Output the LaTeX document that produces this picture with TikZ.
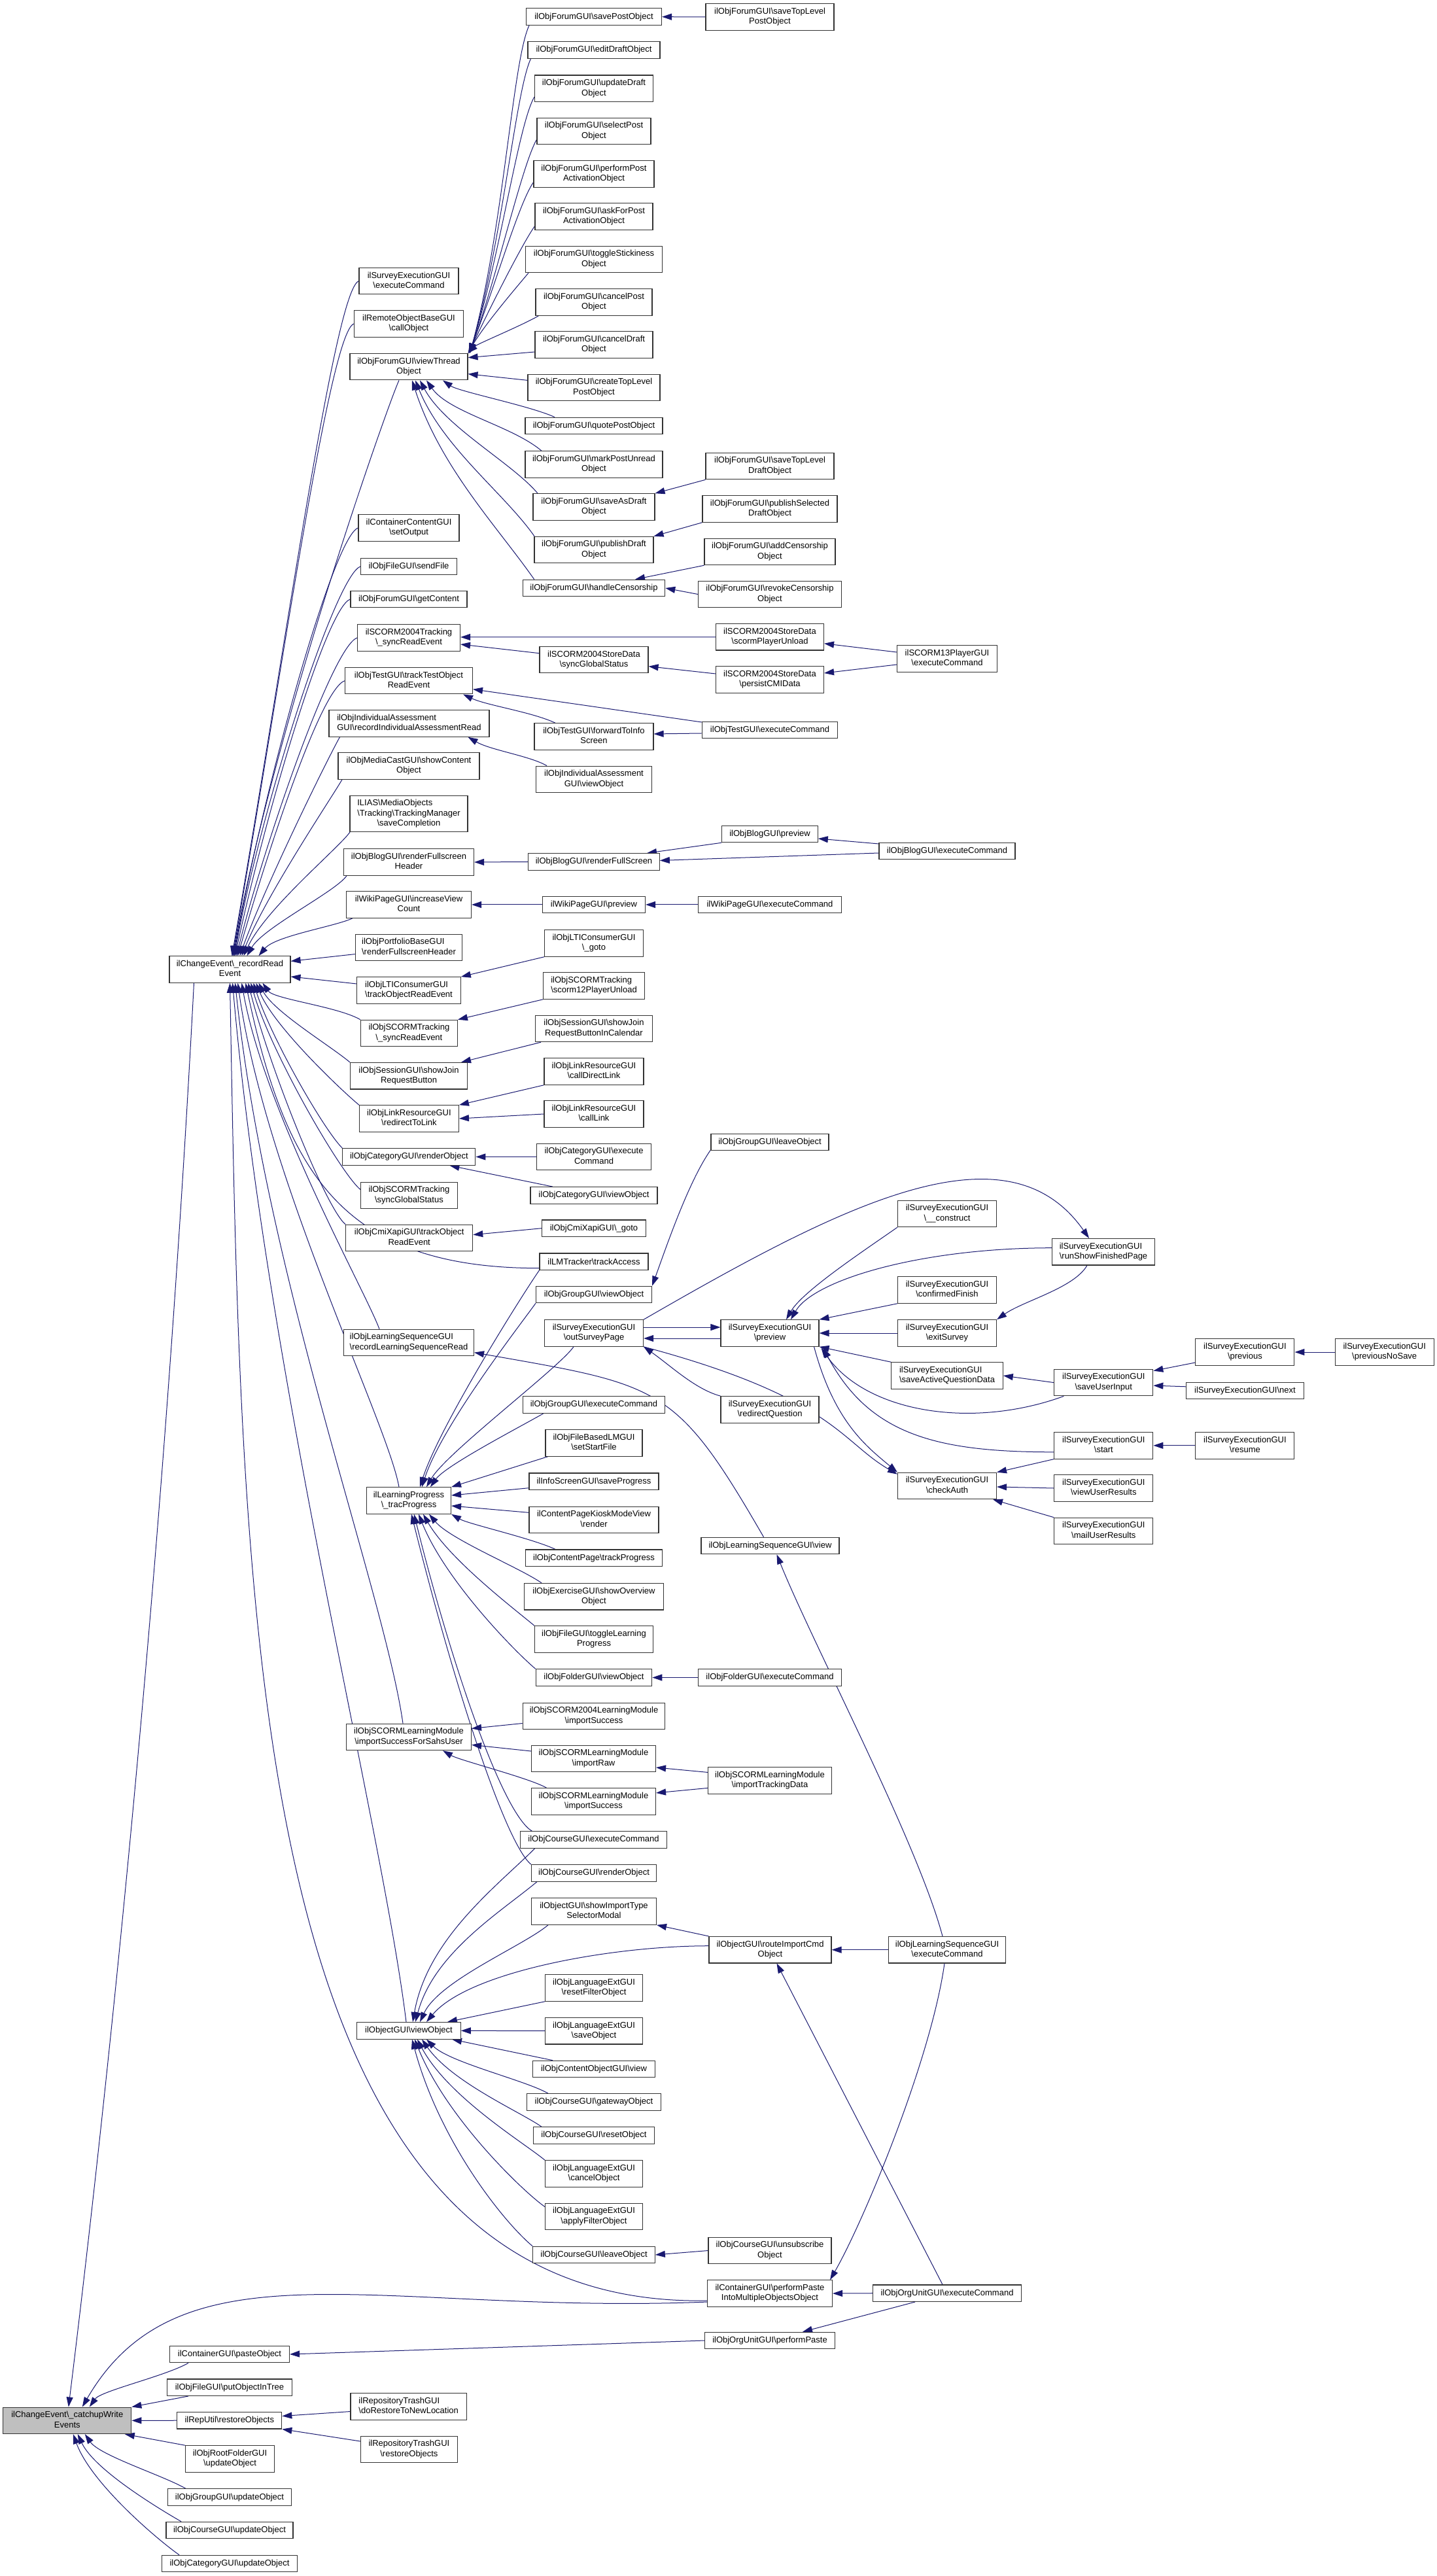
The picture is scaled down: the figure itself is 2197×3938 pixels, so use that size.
\documentclass[tikz,border=0pt]{standalone}
\usepackage{fontspec}
\setmainfont{Liberation Sans}
\usetikzlibrary{arrows.meta}
\pgfdeclarelayer{bg}
\pgfsetlayers{bg,main}
\definecolor{eb}{RGB}{25,25,112}
\newcommand{\bsl}{\textbackslash}
\newcommand{\twol}[2]{\begin{tabular}{@{}l@{}}#1\\\multicolumn{1}{@{}c@{}}{#2}\end{tabular}}
\newcommand{\threel}[3]{\begin{tabular}{@{}l@{}}#1\\#2\\\multicolumn{1}{@{}c@{}}{#3}\end{tabular}}
\begin{document}
\begin{tikzpicture}[x=0.1pt,y=-0.1pt,
 box/.style={draw=black!80, line width=0.11pt, fill=white, inner sep=0pt, minimum height=2.55pt, font=\fontsize{1.3}{1.55}\selectfont},
 two/.style={minimum height=4.05pt},
 three/.style={minimum height=5.5pt},
 e/.style={draw=eb, line width=0.1pt, -{Triangle[length=1.5pt,width=1pt]}}]
\useasboundingbox (0,0) rectangle (2197,3938);

% ---------------- column 0
\node[box,two,minimum width=19.6pt,fill=black!25] (C) at (102.8,3700.3) {\twol{ilChangeEvent\bsl\_catchupWrite}{Events}};
\node[box,two,minimum width=18.5pt] (R) at (351.5,1482) {\twol{ilChangeEvent\bsl\_recordRead}{Event}};

% ---------------- column 0.5
\node[box,minimum width=18.3pt] (pasteObj) at (351,3599) {ilContainerGUI\bsl{}pasteObject};
\node[box,minimum width=19.15pt] (putTree) at (351,3649.7) {ilObjFileGUI\bsl{}putObjectInTree};
\node[box,minimum width=16pt] (restoreRep) at (350.8,3700.2) {ilRepUtil\bsl{}restoreObjects};
\node[box,two,minimum width=13.6pt] (rootUpd) at (351.5,3759) {\twol{ilObjRootFolderGUI}{\bsl{}updateObject}};
\node[box,minimum width=18.9pt] (groupUpd) at (351,3817.6) {ilObjGroupGUI\bsl{}updateObject};
\node[box,minimum width=19.4pt] (courseUpd) at (351,3868) {ilObjCourseGUI\bsl{}updateObject};
\node[box,minimum width=20.7pt] (catUpd) at (351,3919) {ilObjCategoryGUI\bsl{}updateObject};

% ---------------- column 1
\node[box,two,minimum width=15.2pt] (sExec) at (625,429.7) {\twol{ilSurveyExecutionGUI}{\bsl{}executeCommand}};
\node[box,two,minimum width=16.7pt] (remote) at (625,495) {\twol{ilRemoteObjectBaseGUI}{\bsl{}callObject}};
\node[box,two,minimum width=18pt] (viewThread) at (625,560.7) {\twol{ilObjForumGUI\bsl{}viewThread}{Object}};
\node[box,two,minimum width=15.4pt] (setOutput) at (625,807) {\twol{ilContainerContentGUI}{\bsl{}setOutput}};
\node[box,minimum width=14.7pt] (sendFile) at (625,866) {ilObjFileGUI\bsl{}sendFile};
\node[box,minimum width=17.8pt] (getContent) at (625,916) {ilObjForumGUI\bsl{}getContent};
\node[box,two,minimum width=15.7pt] (scormTwoSync) at (625,975) {\twol{ilSCORM2004Tracking}{\bsl\_syncReadEvent}};
\node[box,two,minimum width=19.5pt] (trackTest) at (625,1040.7) {\twol{ilObjTestGUI\bsl{}trackTestObject}{ReadEvent}};
\node[box,two,minimum width=24.5pt] (indivRead) at (625.5,1106) {\twol{ilObjIndividualAssessment}{GUI\bsl{}recordIndividualAssessmentRead}};
\node[box,two,minimum width=21.6pt] (mediaCast) at (625,1171) {\twol{ilObjMediaCastGUI\bsl{}showContent}{Object}};
\node[box,three,minimum width=18pt] (saveCompl) at (625,1244) {\threel{ILIAS\bsl{}MediaObjects}{\bsl{}Tracking\bsl{}TrackingManager}{\bsl{}saveCompletion}};
\node[box,two,minimum width=19.9pt] (blogHeader) at (625,1318) {\twol{ilObjBlogGUI\bsl{}renderFullscreen}{Header}};
\node[box,two,minimum width=19.1pt] (wikiInc) at (625,1383) {\twol{ilWikiPageGUI\bsl{}increaseView}{Count}};
\node[box,two,minimum width=16.35pt] (portfolio) at (625,1448.6) {\twol{ilObjPortfolioBaseGUI}{\bsl{}renderFullscreenHeader}};
\node[box,two,minimum width=15.85pt] (ltiTrack) at (625,1514) {\twol{ilObjLTIConsumerGUI}{\bsl{}trackObjectReadEvent}};
\node[box,two,minimum width=14.8pt] (scormSync) at (625.4,1579.5) {\twol{ilObjSCORMTracking}{\bsl\_syncReadEvent}};
\node[box,two,minimum width=17.9pt] (joinBtn) at (625,1644.7) {\twol{ilObjSessionGUI\bsl{}showJoin}{RequestButton}};
\node[box,two,minimum width=15.2pt] (redirect) at (625.4,1710) {\twol{ilObjLinkResourceGUI}{\bsl{}redirectToLink}};
\node[box,minimum width=20.3pt] (catRender) at (625.4,1768.5) {ilObjCategoryGUI\bsl{}renderObject};
\node[box,two,minimum width=14.8pt] (scormGlobal) at (625.4,1827.4) {\twol{ilObjSCORMTracking}{\bsl{}syncGlobalStatus}};
\node[box,two,minimum width=19.4pt] (cmiTrack) at (625.7,1892.6) {\twol{ilObjCmiXapiGUI\bsl{}trackObject}{ReadEvent}};
\node[box,two,minimum width=19.9pt] (lsRead) at (625,2052.6) {\twol{ilObjLearningSequenceGUI}{\bsl{}recordLearningSequenceRead}};
\node[box,two,minimum width=12.9pt] (tracProg) at (625,2294) {\twol{ilLearningProgress}{\bsl\_tracProgress}};
\node[box,two,minimum width=19.1pt] (sahs) at (625,2655.4) {\twol{ilObjSCORMLearningModule}{\bsl{}importSuccessForSahsUser}};
\node[box,minimum width=15.85pt] (objView) at (625,3104.3) {ilObjectGUI\bsl{}viewObject};
\node[box,two,minimum width=17.75pt] (trashNew) at (624.7,3679) {\twol{ilRepositoryTrashGUI}{\bsl{}doRestoreToNewLocation}};
\node[box,two,minimum width=14.8pt] (trashRestore) at (625.4,3744.4) {\twol{ilRepositoryTrashGUI}{\bsl{}restoreObjects}};

% ---------------- column 2
\node[box,minimum width=20.7pt] (savePost) at (908,25.7) {ilObjForumGUI\bsl{}savePostObject};
\node[box,minimum width=20.2pt] (editDraft) at (908,76.6) {ilObjForumGUI\bsl{}editDraftObject};
\node[box,two,minimum width=18.1pt] (updateDraft) at (908,135.3) {\twol{ilObjForumGUI\bsl{}updateDraft}{Object}};
\node[box,two,minimum width=17.4pt] (selectPost) at (908,200.6) {\twol{ilObjForumGUI\bsl{}selectPost}{Object}};
\node[box,two,minimum width=18.4pt] (performPost) at (908,266) {\twol{ilObjForumGUI\bsl{}performPost}{ActivationObject}};
\node[box,two,minimum width=18pt] (askPost) at (908,331) {\twol{ilObjForumGUI\bsl{}askForPost}{ActivationObject}};
\node[box,two,minimum width=20.9pt] (toggleSticky) at (908,396.5) {\twol{ilObjForumGUI\bsl{}toggleStickiness}{Object}};
\node[box,two,minimum width=17.8pt] (cancelPost) at (908,462) {\twol{ilObjForumGUI\bsl{}cancelPost}{Object}};
\node[box,two,minimum width=18pt] (cancelDraft) at (908,527) {\twol{ilObjForumGUI\bsl{}cancelDraft}{Object}};
\node[box,two,minimum width=20.2pt] (createTop) at (908,592.4) {\twol{ilObjForumGUI\bsl{}createTopLevel}{PostObject}};
\node[box,minimum width=21pt] (quotePost) at (908,651) {ilObjForumGUI\bsl{}quotePostObject};
\node[box,two,minimum width=21pt] (markUnread) at (908,710) {\twol{ilObjForumGUI\bsl{}markPostUnread}{Object}};
\node[box,two,minimum width=18.6pt] (saveAsDraft) at (908,775) {\twol{ilObjForumGUI\bsl{}saveAsDraft}{Object}};
\node[box,two,minimum width=18.2pt] (publishDraft) at (908,840.6) {\twol{ilObjForumGUI\bsl{}publishDraft}{Object}};
\node[box,minimum width=21.75pt] (censorship) at (908,899) {ilObjForumGUI\bsl{}handleCensorship};
\node[box,two,minimum width=16.6pt] (storeSync) at (908,1008.7) {\twol{ilSCORM2004StoreData}{\bsl{}syncGlobalStatus}};
\node[box,two,minimum width=18.2pt] (forwardInfo) at (908,1126) {\twol{ilObjTestGUI\bsl{}forwardToInfo}{Screen}};
\node[box,two,minimum width=17.7pt] (indivView) at (908,1191.4) {\twol{ilObjIndividualAssessment}{GUI\bsl{}viewObject}};
\node[box,minimum width=20.06pt] (blogFull) at (908,1317.5) {ilObjBlogGUI\bsl{}renderFullScreen};
\node[box,minimum width=15.7pt] (wikiPrev) at (908,1383) {ilWikiPageGUI\bsl{}preview};
\node[box,two,minimum width=15.1pt] (ltiGoto) at (908,1442) {\twol{ilObjLTIConsumerGUI}{\bsl\_goto}};
\node[box,two,minimum width=15.44pt] (scormTwelve) at (908,1507) {\twol{ilObjSCORMTracking}{\bsl{}scorm12PlayerUnload}};
\node[box,two,minimum width=17.9pt] (joinCal) at (908,1572.5) {\twol{ilObjSessionGUI\bsl{}showJoin}{RequestButtonInCalendar}};
\node[box,two,minimum width=15.2pt] (callDirect) at (908,1638) {\twol{ilObjLinkResourceGUI}{\bsl{}callDirectLink}};
\node[box,two,minimum width=15.2pt] (callLink) at (908,1703) {\twol{ilObjLinkResourceGUI}{\bsl{}callLink}};
\node[box,two,minimum width=17.47pt] (catExec) at (908,1768.5) {\twol{ilObjCategoryGUI\bsl{}execute}{Command}};
\node[box,minimum width=19.4pt] (catView) at (908,1827.4) {ilObjCategoryGUI\bsl{}viewObject};
\node[box,minimum width=15.85pt] (cmiGoto) at (908,1877.7) {ilObjCmiXapiGUI\bsl\_goto};
\node[box,minimum width=16.6pt] (lmTrack) at (908,1928.7) {ilLMTracker\bsl{}trackAccess};
\node[box,minimum width=17.7pt] (groupView) at (908,1979) {ilObjGroupGUI\bsl{}viewObject};
\node[box,two,minimum width=15.1pt] (outSurvey) at (908,2038) {\twol{ilSurveyExecutionGUI}{\bsl{}outSurveyPage}};
\node[box,minimum width=21.75pt] (groupExec) at (908,2147.4) {ilObjGroupGUI\bsl{}executeCommand};
\node[box,two,minimum width=14.8pt] (setStart) at (908,2205.8) {\twol{ilObjFileBasedLMGUI}{\bsl{}setStartFile}};
\node[box,minimum width=19.8pt] (infoSave) at (908,2264.7) {ilInfoScreenGUI\bsl{}saveProgress};
\node[box,two,minimum width=19.8pt] (kiosk) at (908,2323.3) {\twol{ilContentPageKioskModeView}{\bsl{}render}};
\node[box,minimum width=20.9pt] (cpTrack) at (908,2381.7) {ilObjContentPage\bsl{}trackProgress};
\node[box,two,minimum width=21.3pt] (exercise) at (908,2440.7) {\twol{ilObjExerciseGUI\bsl{}showOverview}{Object}};
\node[box,two,minimum width=18.1pt] (fileToggle) at (908,2506) {\twol{ilObjFileGUI\bsl{}toggleLearning}{Progress}};
\node[box,minimum width=17.75pt] (folderView) at (908,2564.5) {ilObjFolderGUI\bsl{}viewObject};
\node[box,two,minimum width=21.75pt] (sTwoImport) at (908,2623.5) {\twol{ilObjSCORM2004LearningModule}{\bsl{}importSuccess}};
\node[box,two,minimum width=19pt] (importRaw) at (907.5,2688.6) {\twol{ilObjSCORMLearningModule}{\bsl{}importRaw}};
\node[box,two,minimum width=19pt] (importSucc) at (907.5,2753.9) {\twol{ilObjSCORMLearningModule}{\bsl{}importSuccess}};
\node[box,minimum width=22.4pt] (courseExec) at (907.5,2812.6) {ilObjCourseGUI\bsl{}executeCommand};
\node[box,minimum width=19.15pt] (courseRender) at (908,2863.3) {ilObjCourseGUI\bsl{}renderObject};
\node[box,two,minimum width=19.1pt] (importModal) at (908,2922) {\twol{ilObjectGUI\bsl{}showImportType}{SelectorModal}};
\node[box,two,minimum width=14.9pt] (resetFilter) at (908,3039) {\twol{ilObjLanguageExtGUI}{\bsl{}resetFilterObject}};
\node[box,two,minimum width=14.9pt] (langSave) at (908,3104.7) {\twol{ilObjLanguageExtGUI}{\bsl{}saveObject}};
\node[box,minimum width=18.66pt] (coView) at (908,3163) {ilObjContentObjectGUI\bsl{}view};
\node[box,minimum width=20.55pt] (gateway) at (908,3213.5) {ilObjCourseGUI\bsl{}gatewayObject};
\node[box,minimum width=18.5pt] (courseReset) at (908,3264.5) {ilObjCourseGUI\bsl{}resetObject};
\node[box,two,minimum width=14.9pt] (langCancel) at (908,3323) {\twol{ilObjLanguageExtGUI}{\bsl{}cancelObject}};
\node[box,two,minimum width=14.9pt] (applyFilter) at (908,3388.5) {\twol{ilObjLanguageExtGUI}{\bsl{}applyFilterObject}};
\node[box,minimum width=18.66pt] (courseLeave) at (908,3447) {ilObjCourseGUI\bsl{}leaveObject};

% ---------------- column 3
\node[box,two,minimum width=19.6pt] (saveTopPost) at (1177,26) {\twol{ilObjForumGUI\bsl{}saveTopLevel}{PostObject}};
\node[box,two,minimum width=19.6pt] (saveTopDraft) at (1177,712.6) {\twol{ilObjForumGUI\bsl{}saveTopLevel}{DraftObject}};
\node[box,two,minimum width=20.6pt] (pubSelected) at (1177,778) {\twol{ilObjForumGUI\bsl{}publishSelected}{DraftObject}};
\node[box,two,minimum width=20pt] (addCensor) at (1177,843.5) {\twol{ilObjForumGUI\bsl{}addCensorship}{Object}};
\node[box,two,minimum width=21.9pt] (revokeCensor) at (1177,908.5) {\twol{ilObjForumGUI\bsl{}revokeCensorship}{Object}};
\node[box,two,minimum width=16.5pt] (playerUnload) at (1177,973.8) {\twol{ilSCORM2004StoreData}{\bsl{}scormPlayerUnload}};
\node[box,two,minimum width=16.5pt] (persistCMI) at (1177,1039) {\twol{ilSCORM2004StoreData}{\bsl{}persistCMIData}};
\node[box,minimum width=20.75pt] (testExec) at (1177,1116) {ilObjTestGUI\bsl{}executeCommand};
\node[box,minimum width=14.66pt] (blogPrev) at (1177,1275) {ilObjBlogGUI\bsl{}preview};
\node[box,minimum width=21.9pt] (wikiExec) at (1177,1383) {ilWikiPageGUI\bsl{}executeCommand};
\node[box,minimum width=18pt] (groupLeave) at (1177,1746) {ilObjGroupGUI\bsl{}leaveObject};
\node[box,two,minimum width=15pt] (preview) at (1177,2038) {\twol{ilSurveyExecutionGUI}{\bsl{}preview}};
\node[box,two,minimum width=15pt] (redirectQ) at (1177,2154.9) {\twol{ilSurveyExecutionGUI}{\bsl{}redirectQuestion}};
\node[box,minimum width=21.1pt] (lsView) at (1177.5,2363) {ilObjLearningSequenceGUI\bsl{}view};
\node[box,minimum width=21.9pt] (folderExec) at (1177,2564.5) {ilObjFolderGUI\bsl{}executeCommand};
\node[box,two,minimum width=18.9pt] (trackingData) at (1177,2722) {\twol{ilObjSCORMLearningModule}{\bsl{}importTrackingData}};
\node[box,two,minimum width=18.7pt] (routeImport) at (1177.5,2980.7) {\twol{ilObjectGUI\bsl{}routeImportCmd}{Object}};
\node[box,two,minimum width=18.8pt] (unsubscribe) at (1177,3440.5) {\twol{ilObjCourseGUI\bsl{}unsubscribe}{Object}};
\node[box,two,minimum width=19.1pt] (pasteMulti) at (1177,3506) {\twol{ilContainerGUI\bsl{}performPaste}{IntoMultipleObjectsObject}};
\node[box,minimum width=19.9pt] (orgPaste) at (1177,3578) {ilObjOrgUnitGUI\bsl{}performPaste};

% ---------------- column 4
\node[box,two,minimum width=15.3pt] (scormPlayer) at (1448,1007) {\twol{ilSCORM13PlayerGUI}{\bsl{}executeCommand}};
\node[box,minimum width=20.8pt] (blogExec) at (1448,1301) {ilObjBlogGUI\bsl{}executeCommand};
\node[box,two,minimum width=15.1pt] (construct) at (1448,1855.4) {\twol{ilSurveyExecutionGUI}{\bsl\_\_construct}};
\node[box,two,minimum width=15.1pt] (confirmed) at (1448,1972) {\twol{ilSurveyExecutionGUI}{\bsl{}confirmedFinish}};
\node[box,two,minimum width=15.1pt] (exitSurvey) at (1448,2038) {\twol{ilSurveyExecutionGUI}{\bsl{}exitSurvey}};
\node[box,two,minimum width=17.05pt] (saveActive) at (1448,2103) {\twol{ilSurveyExecutionGUI}{\bsl{}saveActiveQuestionData}};
\node[box,two,minimum width=15.1pt] (checkAuth) at (1448,2271.5) {\twol{ilSurveyExecutionGUI}{\bsl{}checkAuth}};
\node[box,two,minimum width=17.9pt] (lsExec) at (1448,2980.7) {\twol{ilObjLearningSequenceGUI}{\bsl{}executeCommand}};
\node[box,minimum width=22.7pt] (orgExec) at (1448,3505.7) {ilObjOrgUnitGUI\bsl{}executeCommand};

% ---------------- column 5
\node[box,two,minimum width=15.65pt] (runFinished) at (1687,1913.7) {\twol{ilSurveyExecutionGUI}{\bsl{}runShowFinishedPage}};
\node[box,two,minimum width=15.1pt] (saveUser) at (1687.3,2113.6) {\twol{ilSurveyExecutionGUI}{\bsl{}saveUserInput}};
\node[box,two,minimum width=15.1pt] (sStart) at (1687.3,2209.8) {\twol{ilSurveyExecutionGUI}{\bsl{}start}};
\node[box,two,minimum width=15.1pt] (viewResults) at (1687.3,2275) {\twol{ilSurveyExecutionGUI}{\bsl{}viewUserResults}};
\node[box,two,minimum width=15.1pt] (mailResults) at (1687.3,2340.5) {\twol{ilSurveyExecutionGUI}{\bsl{}mailUserResults}};

% ---------------- column 6/7
\node[box,two,minimum width=15.1pt] (previous) at (1903.4,2067) {\twol{ilSurveyExecutionGUI}{\bsl{}previous}};
\node[box,minimum width=18pt] (sNext) at (1903.4,2125.8) {ilSurveyExecutionGUI\bsl{}next};
\node[box,two,minimum width=15.1pt] (resume) at (1903.4,2209.8) {\twol{ilSurveyExecutionGUI}{\bsl{}resume}};
\node[box,two,minimum width=15.1pt] (previousNoSave) at (2116.7,2067) {\twol{ilSurveyExecutionGUI}{\bsl{}previousNoSave}};

\begin{pgfonlayer}{bg}
% ---- into recordReadEvent from above
\draw[e] (sExec.west) .. controls +(200:4pt) and +(80:45pt) .. ([xshift=0.3pt]R.north);
\draw[e] (remote.west) .. controls +(200:4pt) and +(80:42pt) .. ([xshift=0.4pt]R.north);
\draw[e] ([xshift=-1.5pt]viewThread.south) .. controls +(-115:4pt) and +(80:35pt) .. ([xshift=0.5pt]R.north);
\draw[e] (setOutput.west) .. controls +(200:4pt) and +(80:26pt) .. ([xshift=0.6pt]R.north);
\draw[e] (sendFile.west) .. controls +(200:4pt) and +(80:23pt) .. ([xshift=0.7pt]R.north);
\draw[e] (getContent.west) .. controls +(200:4pt) and +(78:21pt) .. ([xshift=0.8pt]R.north);
\draw[e] (scormTwoSync.west) .. controls +(200:4pt) and +(76:18pt) .. ([xshift=1pt]R.north);
\draw[e] (trackTest.west) .. controls +(200:4pt) and +(74:16pt) .. ([xshift=1.2pt]R.north);
\draw[e] ([xshift=-10.6pt]indivRead.south) .. controls +(240:3pt) and +(70:12pt) .. ([xshift=1.5pt]R.north);
\draw[e] ([xshift=-10.2pt]mediaCast.south) .. controls +(240:3pt) and +(68:10pt) .. ([xshift=1.8pt]R.north);
\draw[e] ([xshift=-9pt]saveCompl.south) .. controls +(235:3pt) and +(65:8pt) .. ([xshift=2.1pt]R.north);
\draw[e] ([xshift=-9.5pt]blogHeader.south) .. controls +(235:3pt) and +(60:5pt) .. ([xshift=2.6pt]R.north);
\draw[e] ([xshift=1pt]wikiInc.south west) .. controls +(205:3pt) and +(50:4pt) .. ([xshift=4.4pt]R.north);
% ---- into recordReadEvent from the right
\draw[e] ([yshift=-1pt]portfolio.west) -- ([yshift=1.26pt]R.east);
\draw[e] ([yshift=1pt]ltiTrack.west) -- ([yshift=-1.1pt]R.east);
% ---- into recordReadEvent from below
\draw[e] (scormSync.north west) .. controls +(150:4pt) and +(-55:3pt) .. ([xshift=5pt]R.south);
\draw[e] (joinBtn.north west) .. controls +(140:4pt) and +(-62:5pt) .. ([xshift=4.4pt]R.south);
\draw[e] (redirect.north west) .. controls +(140:4pt) and +(-68:7pt) .. ([xshift=4pt]R.south);
\draw[e] (catRender.north west) .. controls +(135:4pt) and +(-72:9pt) .. ([xshift=3.6pt]R.south);
\draw[e] ([yshift=0.9pt]scormGlobal.west) .. controls +(140:4pt) and +(-74:11pt) .. ([xshift=3.2pt]R.south);
\draw[e] (cmiTrack.north west) .. controls +(140:4pt) and +(-76:13pt) .. ([xshift=2.8pt]R.south);
\draw[e] ([yshift=-1pt]lmTrack.west) .. controls +(180:30pt) and +(-78:30pt) .. ([xshift=2.4pt]R.south);
\draw[e] ([xshift=-4.5pt]lsRead.north) .. controls +(110:6pt) and +(-80:20pt) .. ([xshift=1.8pt]R.south);
\draw[e] ([xshift=-1.5pt]tracProg.north) .. controls +(100:10pt) and +(-82:30pt) .. ([xshift=1.2pt]R.south);
\draw[e] ([xshift=-0.9pt]sahs.north) .. controls +(98:20pt) and +(-84:45pt) .. ([xshift=0.8pt]R.south);
\draw[e] ([xshift=-0.4pt]objView.north) .. controls +(97:30pt) and +(-85:60pt) .. ([xshift=0.4pt]R.south);
\draw[e] ([yshift=-1.1pt]pasteMulti.west) .. controls (380,3530) and (370,2500) .. (R.south);
% ---- into catchupWriteEvents
\draw[e] ([xshift=-5.5pt]R.south) .. controls +(-93:80pt) and +(83:60pt) .. ([xshift=0.2pt]C.north);
\draw[e] ([yshift=-1.3pt]pasteMulti.west) .. controls (582,3539) and (276,3420) .. ([xshift=2.3pt]C.north);
\draw[e] ([xshift=-6.3pt]pasteObj.south) .. controls +(-150:4pt) and +(55:3pt) .. ([xshift=3.4pt]C.north);
\draw[e] ([xshift=-6.3pt]putTree.south) -- (C.north east);
\draw[e] (restoreRep.west) -- (C.east);
\draw[e] (rootUpd.north west) -- ([xshift=8.8pt]C.south);
\draw[e] ([xshift=-6.7pt]groupUpd.north) .. controls +(150:4pt) and +(-55:4pt) .. ([xshift=2.7pt]C.south);
\draw[e] ([xshift=-7.4pt]courseUpd.north) .. controls +(150:4pt) and +(-65:6pt) .. ([xshift=1.6pt]C.south);
\draw[e] ([xshift=-7.7pt]catUpd.north) .. controls +(145:4pt) and +(-70:8pt) .. ([xshift=0.9pt]C.south);
\draw[e] ([yshift=-0.75pt]trashNew.west) -- ([yshift=0.67pt]restoreRep.east);
\draw[e] ([yshift=1.24pt]trashRestore.west) -- (restoreRep.south east);

% ---- forum
\draw[e] ([xshift=0.5pt]savePost.south west) .. controls +(245:6pt) and +(75:20pt) .. ([xshift=0.3pt]viewThread.north east);
\draw[e] ([xshift=0.5pt]editDraft.south west) .. controls +(245:5.5pt) and +(74:18pt) .. ([xshift=0.3pt]viewThread.north east);
\draw[e] ([yshift=0.8pt]updateDraft.south west) .. controls +(240:5pt) and +(72:15pt) .. ([xshift=0.2pt]viewThread.north east);
\draw[e] ([yshift=0.8pt]selectPost.south west) .. controls +(240:4.5pt) and +(70:12pt) .. ([xshift=0.2pt]viewThread.north east);
\draw[e] ([yshift=0.8pt]performPost.south west) .. controls +(235:4pt) and +(68:10pt) .. ([xshift=0.1pt]viewThread.north east);
\draw[e] ([yshift=0.6pt]askPost.south west) .. controls +(235:3.5pt) and +(65:7pt) .. ([xshift=0.1pt]viewThread.north east);
\draw[e] ([xshift=0.5pt]toggleSticky.south west) .. controls +(230:3pt) and +(60:5pt) .. (viewThread.north east);
\draw[e] ([xshift=0.5pt]cancelPost.south west) .. controls +(210:3pt) and +(45:2pt) .. (viewThread.north east);
\draw[e] ([yshift=-1.1pt]cancelDraft.west) -- ([yshift=1.4pt]viewThread.east);
\draw[e] ([yshift=1.1pt]createTop.west) -- ([yshift=-1.1pt]viewThread.east);
\draw[e] ([xshift=-6pt]quotePost.north) .. controls +(155:4pt) and +(-35:3pt) .. ([xshift=5.2pt]viewThread.south);
\draw[e] ([xshift=-8pt]markUnread.north) .. controls +(140:6pt) and +(-55:6pt) .. ([xshift=2.7pt]viewThread.south);
\draw[e] ([xshift=-8.6pt]saveAsDraft.north) .. controls +(130:6pt) and +(-62:8pt) .. ([xshift=1.7pt]viewThread.south);
\draw[e] ([xshift=-9.1pt]publishDraft.north) .. controls +(125:8pt) and +(-68:11pt) .. ([xshift=1pt]viewThread.south);
\draw[e] ([xshift=1.8pt]censorship.north west) .. controls +(125:10pt) and +(-72:14pt) .. ([xshift=0.5pt]viewThread.south);
\draw[e] (saveTopPost.west) -- (savePost.east);
\draw[e] (saveTopDraft.south west) -- (saveAsDraft.north east);
\draw[e] (pubSelected.south west) -- (publishDraft.north east);
\draw[e] (addCensor.south west) -- ([xshift=6.3pt]censorship.north);
\draw[e] (revokeCensor.west) -- (censorship.east);

% ---- scorm 2004 / test / assessment / blog / wiki / others
\draw[e] (playerUnload.west) -- ([yshift=0.1pt]scormTwoSync.east);
\draw[e] ([yshift=1pt]storeSync.west) -- ([yshift=-1pt]scormTwoSync.east);
\draw[e] ([yshift=0.9pt]persistCMI.west) -- ([yshift=-1pt]storeSync.east);
\draw[e] ([yshift=1pt]scormPlayer.west) -- ([yshift=-1pt]playerUnload.east);
\draw[e] ([yshift=-0.9pt]scormPlayer.west) -- ([yshift=1pt]persistCMI.east);
\draw[e] ([yshift=1.2pt]testExec.west) -- ([yshift=-1.3pt]trackTest.east);
\draw[e] ([xshift=-5.9pt]forwardInfo.north) .. controls +(155:4pt) and +(-25:4pt) .. ([xshift=8.3pt]trackTest.south);
\draw[e] ([yshift=-0.5pt]testExec.west) -- ([yshift=0.4pt]forwardInfo.east);
\draw[e] ([xshift=-7.2pt]indivView.north) .. controls +(150:3pt) and +(-30:4pt) .. ([xshift=9pt]indivRead.south);
\draw[e] (blogFull.west) -- (blogHeader.east);
\draw[e] (blogPrev.south west) -- ([xshift=8.1pt]blogFull.north);
\draw[e] ([yshift=-0.3pt]blogExec.west) -- ([yshift=0.2pt]blogFull.east);
\draw[e] ([yshift=1.1pt]blogExec.west) -- ([yshift=-0.7pt]blogPrev.east);
\draw[e] (wikiPrev.west) -- (wikiInc.east);
\draw[e] (wikiExec.west) -- (wikiPrev.east);
\draw[e] (ltiGoto.south west) -- (ltiTrack.north east);
\draw[e] (scormTwelve.south west) -- (scormSync.north east);
\draw[e] ([xshift=0.9pt]joinCal.south west) -- ([xshift=-1pt]joinBtn.north east);
\draw[e] (callDirect.south west) -- (redirect.north east);
\draw[e] (callLink.west) -- (redirect.east);
\draw[e] (catExec.west) -- (catRender.east);
\draw[e] ([xshift=-6.3pt]catView.north) -- ([xshift=6.2pt]catRender.south);
\draw[e] (cmiGoto.west) -- ([yshift=0.5pt]cmiTrack.east);
\draw[e] ([yshift=-1.2pt]groupLeave.west) .. controls +(235:6pt) and +(70:6pt) .. (groupView.north east);

% ---- tracProgress
\draw[e] (lmTrack.south west) .. controls +(235:4pt) and +(72:10pt) .. ([xshift=1.7pt]tracProg.north);
\draw[e] (groupView.south west) .. controls +(235:3pt) and +(72:10pt) .. ([xshift=2pt]tracProg.north);
\draw[e] ([xshift=-3.1pt]outSurvey.south) .. controls +(235:4pt) and +(60:6pt) .. ([xshift=2.7pt]tracProg.north);
\draw[e] ([xshift=-7.7pt]groupExec.south) .. controls +(210:4pt) and +(55:4pt) .. ([xshift=3.3pt]tracProg.north);
\draw[e] ([xshift=-7pt]setStart.south) -- (tracProg.north east);
\draw[e] ([yshift=-1pt]infoSave.west) -- ([yshift=0.8pt]tracProg.east);
\draw[e] ([yshift=1.1pt]kiosk.west) -- ([yshift=-0.8pt]tracProg.east);
\draw[e] ([xshift=-5.9pt]cpTrack.north) .. controls +(155:4pt) and +(-30:3pt) .. (tracProg.south east);
\draw[e] ([xshift=-8pt]exercise.north) .. controls +(145:4pt) and +(-50:5pt) .. ([xshift=3.1pt]tracProg.south);
\draw[e] (fileToggle.north west) .. controls +(140:4pt) and +(-60:8pt) .. ([xshift=2.2pt]tracProg.south);
\draw[e] (folderView.north west) .. controls +(140:4pt) and +(-68:11pt) .. ([xshift=1.5pt]tracProg.south);
\draw[e] ([xshift=-9.4pt]courseExec.north) .. controls +(150:5pt) and +(-76:25pt) .. ([xshift=0.8pt]tracProg.south);
\draw[e] (courseRender.north west) .. controls +(140:5pt) and +(-76:28pt) .. ([xshift=0.4pt]tracProg.south);
\draw[e] (folderExec.west) -- (folderView.east);

% ---- SCORM learning module
\draw[e] ([yshift=-1.1pt]sTwoImport.west) -- ([yshift=1.3pt]sahs.east);
\draw[e] ([yshift=1.16pt]importRaw.west) -- ([yshift=-1.2pt]sahs.east);
\draw[e] ([xshift=-7.2pt]importSucc.north) .. controls +(150:3pt) and +(-30:3pt) .. ([xshift=5.2pt]sahs.south);
\draw[e] ([yshift=1.26pt]trackingData.west) -- ([yshift=-1.34pt]importRaw.east);
\draw[e] ([yshift=-1.14pt]trackingData.west) -- ([yshift=1.3pt]importSucc.east);

% ---- ilObjectGUI viewObject
\draw[e] ([xshift=-9pt]courseExec.south) .. controls +(225:8pt) and +(80:13pt) .. ([xshift=0.6pt]objView.north);
\draw[e] ([xshift=-8.7pt]courseRender.south) .. controls +(220:7pt) and +(75:11pt) .. ([xshift=1pt]objView.north);
\draw[e] ([xshift=-7pt]importModal.south) .. controls +(220:5pt) and +(65:7pt) .. ([xshift=1.7pt]objView.north);
\draw[e] ([yshift=0.6pt]routeImport.west) .. controls +(180:15pt) and +(50:10pt) .. ([xshift=2.7pt]objView.north);
\draw[e] (resetFilter.south west) -- ([xshift=5.9pt]objView.north);
\draw[e] (langSave.west) -- (objView.east);
\draw[e] ([xshift=-6.3pt]coView.north) -- ([xshift=6.6pt]objView.south);
\draw[e] ([xshift=-7pt]gateway.north) .. controls +(150:4pt) and +(-45:5pt) .. ([xshift=2.7pt]objView.south);
\draw[e] ([xshift=-8pt]courseReset.north) .. controls +(145:4pt) and +(-55:8pt) .. ([xshift=2pt]objView.south);
\draw[e] (langCancel.north west) .. controls +(140:4pt) and +(-62:10pt) .. ([xshift=1.3pt]objView.south);
\draw[e] ([yshift=1.5pt]applyFilter.west) .. controls +(145:4pt) and +(-68:13pt) .. ([xshift=0.9pt]objView.south);
\draw[e] (courseLeave.north west) .. controls +(140:6pt) and +(-75:16pt) .. ([xshift=0.5pt]objView.south);
\draw[e] (routeImport.north west) -- (importModal.south east);
\draw[e] (lsExec.west) -- (routeImport.east);
\draw[e] ([xshift=-0.7pt]orgExec.north) -- ([xshift=1pt]routeImport.south);
\draw[e] ([xshift=-0.7pt]lsExec.north) .. controls +(105:15pt) and +(-68:15pt) .. ([xshift=1pt]lsView.south);
\draw[e] ([xshift=-0.4pt]lsExec.south) .. controls +(-98:15pt) and +(60:10pt) .. ([xshift=-0.4pt]pasteMulti.north east);
\draw[e] ([xshift=-1pt]lsView.north) .. controls +(120:27pt) and +(-10:29pt) .. ([yshift=-1.5pt]lsRead.east);
\draw[e] (orgExec.west) -- (pasteMulti.east);
\draw[e] ([xshift=-4.9pt]orgExec.south) -- ([xshift=5pt]orgPaste.north);
\draw[e] (orgPaste.west) -- (pasteObj.east);
\draw[e] (unsubscribe.west) -- (courseLeave.east);

% ---- survey execution
\draw[e] ([yshift=0.9pt]outSurvey.east) -- ([yshift=0.9pt]preview.west);
\draw[e] ([yshift=-0.8pt]preview.west) -- ([yshift=-0.8pt]outSurvey.east);
\draw[e] (outSurvey.north east) .. controls +(30:35pt) and +(125:22pt) .. ([xshift=-2.2pt]runFinished.north);
\draw[e] (construct.south west) .. controls +(215:6pt) and +(60:5pt) .. ([xshift=2.5pt]preview.north);
\draw[e] ([yshift=0.6pt]runFinished.west) .. controls +(180:20pt) and +(60:7pt) .. ([xshift=3.2pt]preview.north);
\draw[e] (confirmed.south west) -- (preview.north east);
\draw[e] (exitSurvey.west) -- (preview.east);
\draw[e] ([xshift=-2.5pt]runFinished.south) .. controls +(-120:4pt) and +(35:5pt) .. (exitSurvey.north east);
\draw[e] (saveActive.north west) -- (preview.south east);
\draw[e] (saveUser.west) -- (saveActive.east);
\draw[e] ([xshift=-6.1pt]saveUser.south) .. controls +(200:15pt) and +(-55:12pt) .. ([xshift=0.3pt,yshift=-0.2pt]preview.south east);
\draw[e] ([yshift=-1.6pt]previous.west) -- ([yshift=1.8pt]saveUser.east);
\draw[e] (previousNoSave.west) -- (previous.east);
\draw[e] ([yshift=0.6pt]sNext.west) -- ([yshift=-0.45pt]saveUser.east);
\draw[e] ([yshift=-1pt]sStart.west) .. controls +(180:18pt) and +(-62:15pt) .. ([xshift=0.6pt,yshift=-0.2pt]preview.south east);
\draw[e] (resume.west) -- (sStart.east);
\draw[e] (sStart.south west) -- (checkAuth.north east);
\draw[e] (viewResults.west) -- ([yshift=-0.15pt]checkAuth.east);
\draw[e] (mailResults.north west) -- ([xshift=7pt]checkAuth.south);
\draw[e] ([xshift=-0.8pt]preview.south east) .. controls +(-75:12pt) and +(140:6pt) .. (checkAuth.north west);
\draw[e] (outSurvey.south east) .. controls +(-15:30pt) and +(150:10pt) .. ([yshift=-0.3pt]checkAuth.north west);
\draw[e] (redirectQ.north west) .. controls +(165:4pt) and +(-35:5pt) .. (outSurvey.south east);
\end{pgfonlayer}
\end{tikzpicture}
\end{document}
